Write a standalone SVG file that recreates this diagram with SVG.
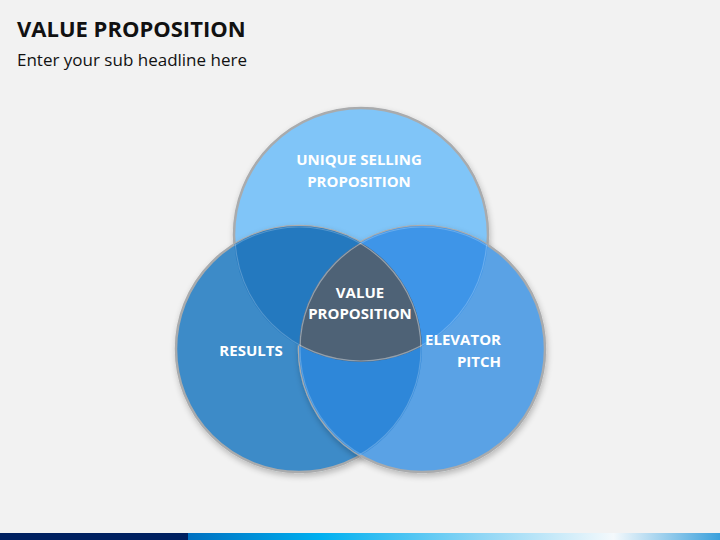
<svg xmlns="http://www.w3.org/2000/svg" width="720" height="540" viewBox="0 0 720 540">
<defs>
<style>
.t{font-family:"Open Sans","Liberation Sans",sans-serif;font-weight:bold;fill:#fff;font-size:15px;text-anchor:middle}
.rim{fill:none;stroke:#a9abad;stroke-width:2.5}
.in{fill:none;stroke:#ffffff;stroke-opacity:0.22;stroke-width:1.2}
</style>
<clipPath id="cT"><circle cx="361" cy="235" r="127"/></clipPath>
<clipPath id="cL"><circle cx="299" cy="349" r="123"/></clipPath>
<clipPath id="cR"><circle cx="422" cy="349" r="123"/></clipPath>
<linearGradient id="bar" x1="0" x2="1" y1="0" y2="0">
<stop offset="0" stop-color="#0070c0"/>
<stop offset="0.25" stop-color="#00b0f0"/>
<stop offset="0.55" stop-color="#8fd6f5"/>
<stop offset="0.80" stop-color="#f4f9fc"/>
<stop offset="1" stop-color="#3aa0dc"/>
</linearGradient>
<filter id="sh" x="-20%" y="-20%" width="140%" height="140%">
<feGaussianBlur in="SourceAlpha" stdDeviation="3"/>
<feOffset dx="1" dy="3"/>
<feComponentTransfer><feFuncA type="linear" slope="0.25"/></feComponentTransfer>
<feMerge><feMergeNode/><feMergeNode in="SourceGraphic"/></feMerge>
</filter>
</defs>
<rect width="720" height="540" fill="#f2f2f2"/>
<text x="17" y="37" font-family="'Open Sans','Liberation Sans',sans-serif" font-weight="bold" font-size="22" fill="#111">VALUE PROPOSITION</text>
<text x="17" y="66" font-family="'Open Sans','Liberation Sans',sans-serif" font-size="17" fill="#111">Enter your sub headline here</text>
<rect x="0" y="533" width="188" height="7" fill="#002060"/>
<rect x="188" y="533" width="532" height="7" fill="url(#bar)"/>

<g id="usp" filter="url(#sh)">
<circle cx="361" cy="235" r="127" fill="#80c5f8" stroke="#a9abad" stroke-width="2.5"/>
</g>
<g id="results" filter="url(#sh)">
<circle cx="299" cy="349" r="123" fill="#3d8bc8" stroke="#a9abad" stroke-width="2.5"/>
</g>
<g id="elevator" filter="url(#sh)">
<circle cx="422" cy="349" r="123" fill="#5aa2e5" stroke="#a9abad" stroke-width="2.5"/>
</g>
<g id="overlaps">
<g clip-path="url(#cT)"><circle cx="299" cy="349" r="123" fill="#2479bf"/><circle cx="422" cy="349" r="123" fill="#3e95e8"/></g>
<g clip-path="url(#cL)"><circle cx="422" cy="349" r="123" fill="#2e87d9"/></g>
<g clip-path="url(#cT)"><g clip-path="url(#cL)"><circle cx="422" cy="349" r="123" fill="#4e6276"/></g></g>
</g>
<g id="inner-edges">
<g clip-path="url(#cT)"><circle class="in" cx="299" cy="349" r="122"/><circle class="in" cx="422" cy="349" r="122"/></g>
<g clip-path="url(#cL)"><circle class="in" cx="361" cy="235" r="126"/><circle class="in" cx="422" cy="349" r="122"/></g>
<g clip-path="url(#cR)"><circle class="in" cx="361" cy="235" r="126"/><circle class="in" cx="299" cy="349" r="122"/></g>
</g>
<g id="labels">
<text class="t" x="359" y="165">UNIQUE SELLING</text>
<text class="t" x="359" y="187">PROPOSITION</text>
<text class="t" x="360" y="298">VALUE</text>
<text class="t" x="360" y="319">PROPOSITION</text>
<text class="t" x="251" y="356">RESULTS</text>
<text class="t" x="501" y="345" style="text-anchor:end">ELEVATOR</text>
<text class="t" x="501" y="367" style="text-anchor:end">PITCH</text>
</g>
</svg>
